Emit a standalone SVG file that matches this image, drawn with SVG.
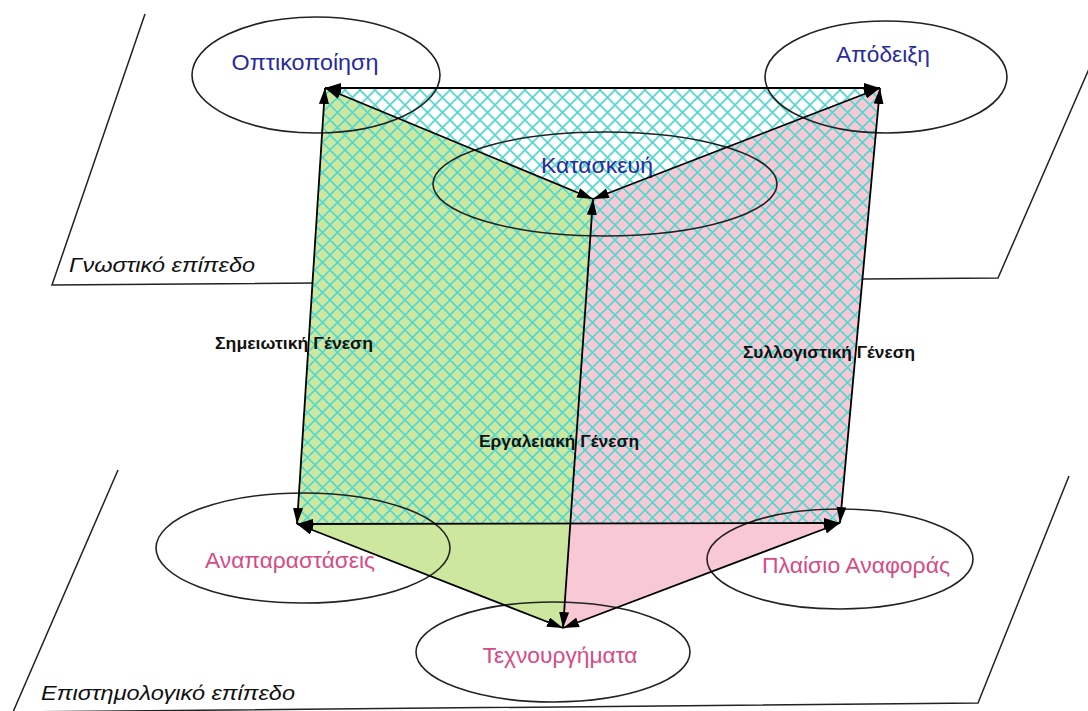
<svg xmlns="http://www.w3.org/2000/svg" width="1088" height="711" viewBox="0 0 1088 711">
<defs>
<pattern id="hatch" patternUnits="userSpaceOnUse" width="15" height="15">
<path d="M0,0 L15,15 M15,0 L0,15" stroke="#4fd8d2" stroke-width="1.6" fill="none"/>
</pattern>
<marker id="ah" viewBox="0 0 16 10" refX="16" refY="5" markerWidth="16" markerHeight="10" markerUnits="userSpaceOnUse" orient="auto-start-reverse">
<path d="M0,0 L16,5 L0,10 Z" fill="#000"/>
</marker>
</defs>
<style>
.plane{fill:none;stroke:#222;stroke-width:1.5}
.ell{fill:none;stroke:#222;stroke-width:1.6}
.conn{fill:none;stroke:#000;stroke-width:1.8;marker-start:url(#ah);marker-end:url(#ah)}
.top{font-family:"Liberation Sans",Arial,sans-serif;font-size:22px;fill:#2a2a9e;text-anchor:middle}
.bot{font-family:"Liberation Sans",Arial,sans-serif;font-size:22px;fill:#d64b86;text-anchor:middle}
.plab{font-family:"Liberation Sans",Arial,sans-serif;font-size:21px;font-style:italic;fill:#111}
.glab{font-family:"Liberation Sans",Arial,sans-serif;font-size:16px;font-weight:bold;fill:#111}
</style>
<rect width="1088" height="711" fill="#fff"/>
<g id="plane-cognitive">
<polyline class="plane" points="145,14 52,285 998,278 1092,62"/>
<text class="plab" x="69" y="272" textLength="186" lengthAdjust="spacingAndGlyphs">Γνωστικό επίπεδο</text>
</g>
<g id="plane-epistemological">
<polyline class="plane" points="118,470 13,712 978,703 1069,476"/>
<text class="plab" x="41" y="700" textLength="254" lengthAdjust="spacingAndGlyphs">Επιστημολογικό επίπεδο</text>
</g>
<g id="faces">
<polygon points="325,88 593,199 563,628 297,524" fill="#cde89e"/>
<polygon points="593,199 880,88 840,523 563,628" fill="#f8c9d5"/>
<polygon points="325,88 880,88 840,523 297,524" fill="url(#hatch)"/>
</g>
<g id="node-optikopoiisi">
<ellipse class="ell" cx="316" cy="75" rx="124" ry="58"/>
<text class="top" x="305" y="70" textLength="147" lengthAdjust="spacingAndGlyphs">Οπτικοποίηση</text>
</g>
<g id="node-apodeixi">
<ellipse class="ell" cx="886" cy="77" rx="121" ry="56"/>
<text class="top" x="883" y="62" textLength="94" lengthAdjust="spacingAndGlyphs">Απόδειξη</text>
</g>
<g id="node-kataskevi">
<ellipse class="ell" cx="605" cy="184" rx="172" ry="52"/>
<text class="top" x="597" y="173" textLength="112" lengthAdjust="spacingAndGlyphs">Κατασκευή</text>
</g>
<g id="node-anaparastaseis">
<ellipse class="ell" cx="303" cy="548" rx="147" ry="55"/>
<text class="bot" x="290" y="568" textLength="170" lengthAdjust="spacingAndGlyphs">Αναπαραστάσεις</text>
</g>
<g id="node-plaisio">
<ellipse class="ell" cx="840" cy="559" rx="133" ry="50"/>
<text class="bot" x="856" y="573" textLength="188" lengthAdjust="spacingAndGlyphs">Πλαίσιο Αναφοράς</text>
</g>
<g id="node-technourgimata">
<ellipse class="ell" cx="553" cy="652" rx="137" ry="50"/>
<text class="bot" x="560" y="663" textLength="155" lengthAdjust="spacingAndGlyphs">Τεχνουργήματα</text>
</g>
<g id="connectors">
<line class="conn" x1="325" y1="88" x2="880" y2="88"/>
<line class="conn" x1="325" y1="88" x2="593" y2="199"/>
<line class="conn" x1="593" y1="199" x2="880" y2="88"/>
<line class="conn" x1="325" y1="88" x2="297" y2="524"/>
<line class="conn" x1="593" y1="199" x2="563" y2="628"/>
<line class="conn" x1="880" y1="88" x2="840" y2="523"/>
<line class="conn" x1="297" y1="524" x2="840" y2="523"/>
<line class="conn" x1="297" y1="524" x2="563" y2="628"/>
<line class="conn" x1="563" y1="628" x2="840" y2="523"/>
</g>
<g id="labels">
<text class="glab" x="215" y="349" textLength="158" lengthAdjust="spacingAndGlyphs">Σημειωτική Γένεση</text>
<text class="glab" x="479" y="447" textLength="160" lengthAdjust="spacingAndGlyphs">Εργαλειακή Γένεση</text>
<text class="glab" x="743" y="358" textLength="172" lengthAdjust="spacingAndGlyphs">Συλλογιστική Γένεση</text>
</g>
</svg>
